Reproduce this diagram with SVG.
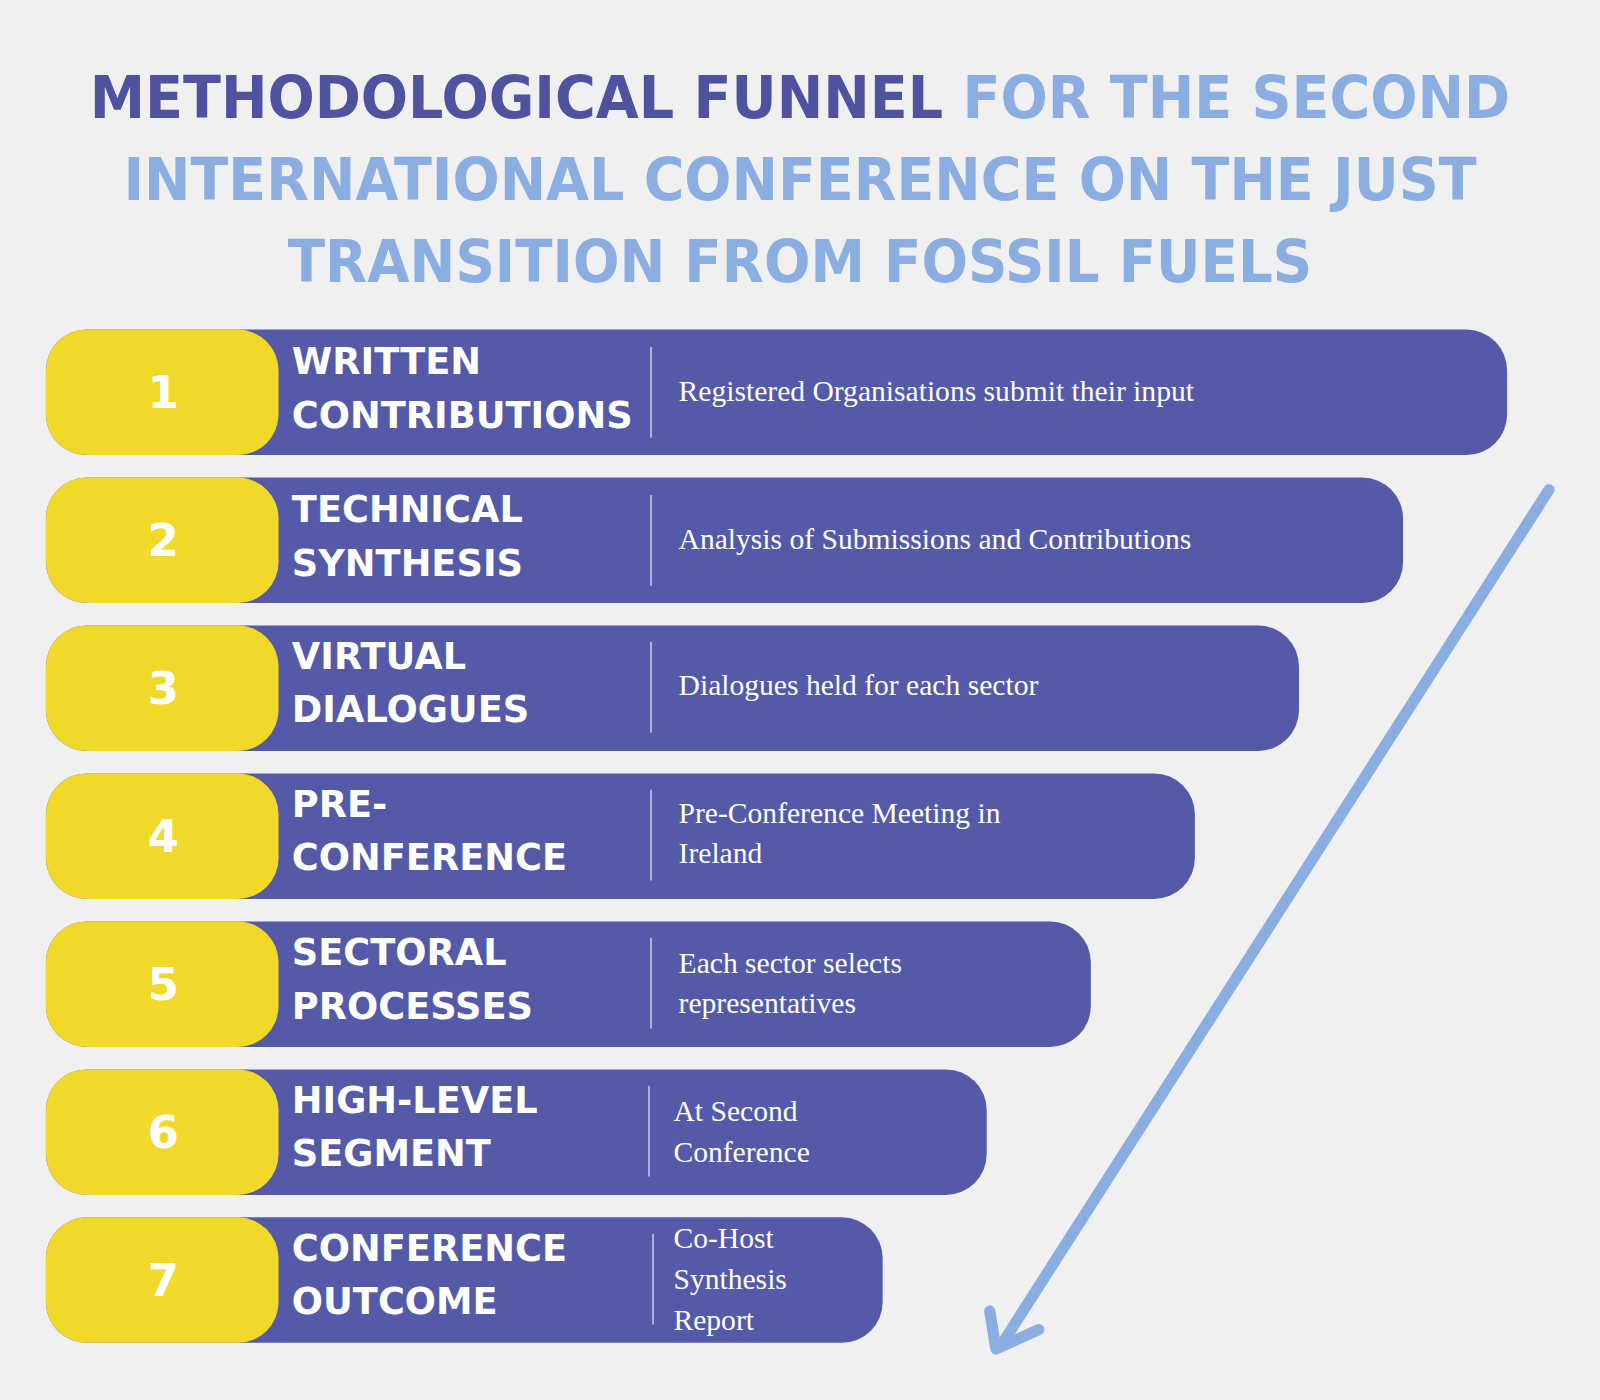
<svg xmlns="http://www.w3.org/2000/svg" width="1600" height="1400" viewBox="0 0 1600 1400">
<style>
.y{fill:#F0D928}.p{fill:#5459A8}
.n{font-family:"DejaVu Sans",sans-serif;font-weight:bold;font-size:44px;fill:#fff;text-anchor:middle}
.l{font-family:"DejaVu Sans",sans-serif;font-weight:bold;font-size:36px;fill:#fff}
.d{font-family:"Liberation Serif",serif;font-size:29px;fill:#fff}
.v{stroke:#C8CAE6;stroke-width:1.5}
.t{font-family:"DejaVu Sans",sans-serif;font-weight:bold;font-size:58px}
</style>
<rect width="1600" height="1400" fill="#F0F0F0"/>
<g transform="scale(1.0204)">
<g id="title" class="t">
<text x="88" y="116" textLength="1392" lengthAdjust="spacingAndGlyphs"><tspan fill="#4E529F">METHODOLOGICAL FUNNEL </tspan><tspan fill="#8AADE2">FOR THE SECOND</tspan></text>
<text x="121" y="196" textLength="1326" lengthAdjust="spacingAndGlyphs" fill="#8AADE2">INTERNATIONAL CONFERENCE ON THE JUST</text>
<text x="282" y="276" textLength="1004" lengthAdjust="spacingAndGlyphs" fill="#8AADE2">TRANSITION FROM FOSSIL FUELS</text>
</g>
<g id="step1"><rect class="p" x="45" y="323" width="1432" height="123" rx="40"/><rect class="y" x="45" y="323" width="228" height="123" rx="40"/><text class="n" x="160" y="400">1</text><text class="l" x="286" y="367">WRITTEN</text><text class="l" x="286" y="419">CONTRIBUTIONS</text><line class="v" x1="638" y1="340" x2="638" y2="429"/><text class="d" x="665" y="393">Registered Organisations submit their input</text></g>
<g id="step2"><rect class="p" x="45" y="468" width="1330" height="123" rx="40"/><rect class="y" x="45" y="468" width="228" height="123" rx="40"/><text class="n" x="160" y="545">2</text><text class="l" x="286" y="512">TECHNICAL</text><text class="l" x="286" y="564">SYNTHESIS</text><line class="v" x1="638" y1="485" x2="638" y2="574"/><text class="d" x="665" y="538">Analysis of Submissions and Contributions</text></g>
<g id="step3"><rect class="p" x="45" y="613" width="1228" height="123" rx="40"/><rect class="y" x="45" y="613" width="228" height="123" rx="40"/><text class="n" x="160" y="690">3</text><text class="l" x="286" y="656">VIRTUAL</text><text class="l" x="286" y="708">DIALOGUES</text><line class="v" x1="638" y1="629" x2="638" y2="718"/><text class="d" x="665" y="681">Dialogues held for each sector</text></g>
<g id="step4"><rect class="p" x="45" y="758" width="1126" height="123" rx="40"/><rect class="y" x="45" y="758" width="228" height="123" rx="40"/><text class="n" x="160" y="835">4</text><text class="l" x="286" y="801">PRE-</text><text class="l" x="286" y="853">CONFERENCE</text><line class="v" x1="638" y1="774" x2="638" y2="863"/><text class="d" x="665" y="807">Pre-Conference Meeting in</text><text class="d" x="665" y="846">Ireland</text></g>
<g id="step5"><rect class="p" x="45" y="903" width="1024" height="123" rx="40"/><rect class="y" x="45" y="903" width="228" height="123" rx="40"/><text class="n" x="160" y="980">5</text><text class="l" x="286" y="946">SECTORAL</text><text class="l" x="286" y="999">PROCESSES</text><line class="v" x1="638" y1="919" x2="638" y2="1008"/><text class="d" x="665" y="954">Each sector selects</text><text class="d" x="665" y="993">representatives</text></g>
<g id="step6"><rect class="p" x="45" y="1048" width="922" height="123" rx="40"/><rect class="y" x="45" y="1048" width="228" height="123" rx="40"/><text class="n" x="160" y="1125">6</text><text class="l" x="286" y="1091">HIGH-LEVEL</text><text class="l" x="286" y="1143">SEGMENT</text><line class="v" x1="636" y1="1064" x2="636" y2="1153"/><text class="d" x="660" y="1099">At Second</text><text class="d" x="660" y="1139">Conference</text></g>
<g id="step7"><rect class="p" x="45" y="1193" width="820" height="123" rx="40"/><rect class="y" x="45" y="1193" width="228" height="123" rx="40"/><text class="n" x="160" y="1270">7</text><text class="l" x="286" y="1236">CONFERENCE</text><text class="l" x="286" y="1288">OUTCOME</text><line class="v" x1="640" y1="1209" x2="640" y2="1298"/><text class="d" x="660" y="1223">Co-Host</text><text class="d" x="660" y="1263">Synthesis</text><text class="d" x="660" y="1303">Report</text></g>
<g id="connectors" fill="none" stroke="#8AADE2" stroke-width="11" stroke-linecap="round" stroke-linejoin="round">
<line x1="1518" y1="480" x2="980" y2="1320"/>
<polyline points="970,1285 976,1322 1018,1303"/>
</g>
</g>
</svg>
